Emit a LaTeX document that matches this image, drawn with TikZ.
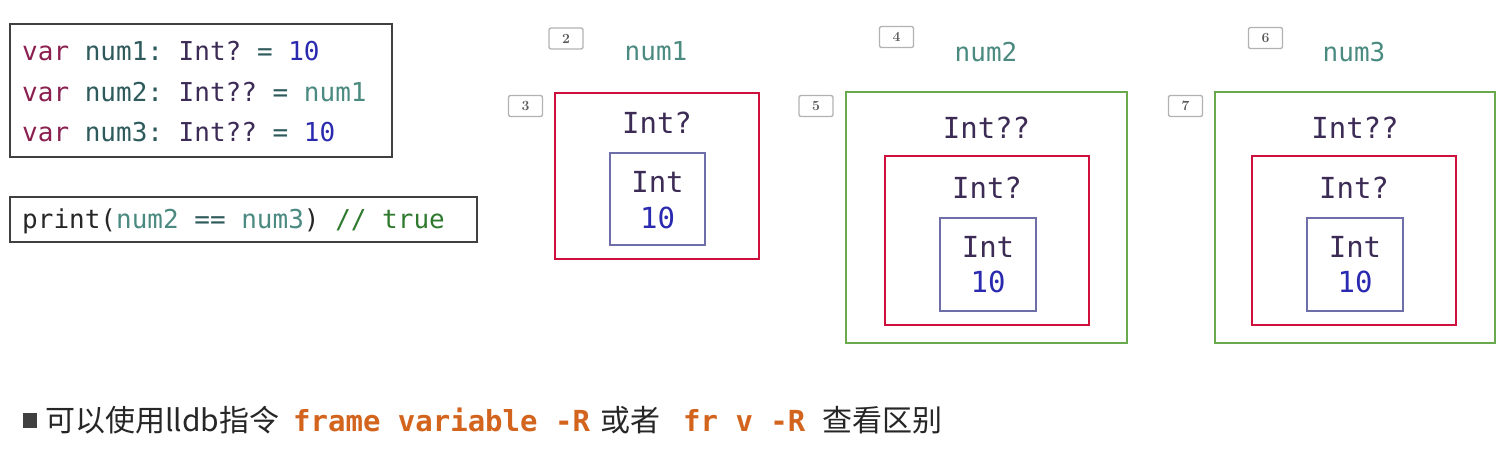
\documentclass[tikz,border=0pt]{standalone}
\usepackage{fontspec}
\setmonofont{DejaVu Sans Mono}
\newfontfamily\cjk{Noto Sans CJK SC}
\usetikzlibrary{positioning}

\definecolor{kwcol}{HTML}{8B1F4F}
\definecolor{idcol}{HTML}{2E5A5C}
\definecolor{refcol}{HTML}{4A8A80}
\definecolor{typecol}{HTML}{3C2B55}
\definecolor{numcol}{HTML}{2A2AB0}
\definecolor{cmtcol}{HTML}{2F7A2F}
\definecolor{optred}{HTML}{D0103C}
\definecolor{optgreen}{HTML}{6AAA4E}
\definecolor{intblue}{HTML}{6E6EA8}
\definecolor{cmdcol}{HTML}{D2641E}

\newcommand{\codefont}{\ttfamily\fontsize{26}{30}\selectfont}
\newcommand{\typefont}{\ttfamily\fontsize{29}{32}\selectfont}

\tikzset{
    codebox/.style={draw=black!75, line width=1.6pt, inner sep=0pt},
    codeline/.style={anchor=base west, inner sep=0pt, font=\codefont, text=idcol},
    tag/.style={draw=gray!60, line width=1.3pt, rounded corners=2pt, inner sep=0pt,
        minimum width=34, minimum height=21, font=\bfseries\fontsize{14}{14}\selectfont, text=black!65},
    varname/.style={anchor=base, inner sep=0pt, font=\codefont, text=refcol},
    wrapbox/.style={draw=optgreen, line width=2pt, inner sep=0pt},
    optbox/.style={draw=optred, line width=2.2pt, inner sep=0pt},
    intbox/.style={draw=intblue, line width=1.3pt, inner sep=0pt},
    typename/.style={anchor=base, inner sep=0pt, font=\typefont, text=typecol},
    numval/.style={anchor=base, inner sep=0pt, font=\typefont, text=numcol},
    tipline/.style={anchor=base west, inner sep=0pt, font=\cjk\fontsize{30}{32}\selectfont, text=black!85},
    cmdline/.style={anchor=base west, inner sep=0pt, font=\ttfamily\bfseries\fontsize{29}{32}\selectfont, text=cmdcol},
}

\begin{document}
\begin{tikzpicture}[x=1pt, y=-1pt]
    \useasboundingbox (0,0) rectangle (1512,452);

    % code
    \node[codebox, minimum width=382, minimum height=133] (decl) at (201,90.5) {};
    \node[codeline] (l1) at (22,60) {{\color{kwcol}var} num1: {\color{typecol}Int?} = {\color{numcol}10}};
    \node[codeline] (l2) at (22,101) {{\color{kwcol}var} num2: {\color{typecol}Int??} = {\color{refcol}num1}};
    \node[codeline] (l3) at (22,141) {{\color{kwcol}var} num3: {\color{typecol}Int??} = {\color{numcol}10}};

    \node[codebox, minimum width=467, minimum height=45] (cmp) at (243.5,219.5) {};
    \node[codeline, text=black!85] (l4) at (22,228) {print({\color{refcol}num2} {\color{idcol}==} {\color{refcol}num3}) {\color{cmtcol}// true}};

    % num1
    \node[tag] (t2) at (566,38.5) {2};
    \node[varname] (n1) at (656,61) {num1};
    \node[tag] (t3) at (525.5,106) {3};
    \node[optbox, minimum width=204, minimum height=166] (opt1) at (657,176) {};
    \node[typename] (o1) at (657,133) {Int?};
    \node[intbox, minimum width=95, minimum height=92] (int1) at (657.5,199) {};
    \node[typename] (i1) at (657.5,192) {Int};
    \node[numval] (v1) at (657.5,228) {10};

    % num2
    \node[tag] (t4) at (896.5,37) {4};
    \node[varname] (n2) at (986,62) {num2};
    \node[tag] (t5) at (816,106) {5};
    \node[wrapbox, minimum width=281, minimum height=251] (wrap2) at (986.5,217.5) {};
    \node[typename] (w2) at (986.5,138) {Int??};
    \node[optbox, minimum width=204, minimum height=169] (opt2) at (987,240.5) {};
    \node[typename] (o2) at (987,198) {Int?};
    \node[intbox, minimum width=96, minimum height=93] (int2) at (988,264.5) {};
    \node[typename] (i2) at (988,257) {Int};
    \node[numval] (v2) at (988,292) {10};

    % num3
    \node[tag] (t6) at (1265.5,38) {6};
    \node[varname] (n3) at (1354,62) {num3};
    \node[tag] (t7) at (1185.5,106) {7};
    \node[wrapbox, minimum width=280, minimum height=251] (wrap3) at (1355,217.5) {};
    \node[typename] (w3) at (1355,138) {Int??};
    \node[optbox, minimum width=204, minimum height=169] (opt3) at (1354,240.5) {};
    \node[typename] (o3) at (1354,198) {Int?};
    \node[intbox, minimum width=96, minimum height=93] (int3) at (1355,264.5) {};
    \node[typename] (i3) at (1355,257) {Int};
    \node[numval] (v3) at (1355,292) {10};

    % tip
    \node[fill=black!75, minimum width=14, minimum height=15, inner sep=0pt] (dot) at (30,420.5) {};
    \node[tipline] (tip) at (45,431) {可以使用lldb指令};
    \node[cmdline] (c1) at (293,431) {frame variable -R};
    \node[tipline] (or) at (600,431) {或者};
    \node[cmdline] (c2) at (683,431) {fr v -R};
    \node[tipline] (diff) at (822,431) {查看区别};
\end{tikzpicture}
\end{document}
